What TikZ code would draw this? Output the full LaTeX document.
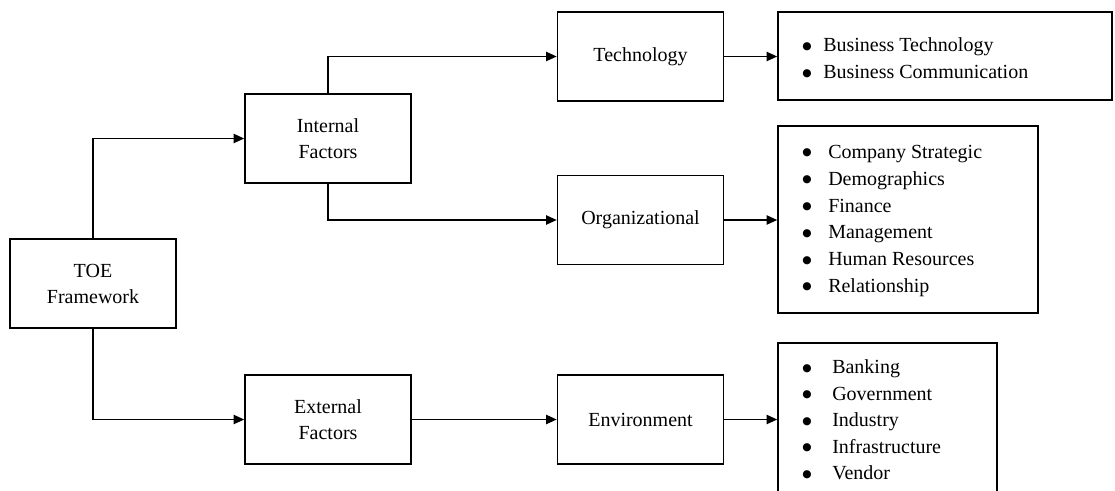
\documentclass[tikz,border=0pt]{standalone}
\usepackage{fontspec}
\setmainfont{Liberation Serif}
\newfontfamily\dejavu{DejaVu Sans}
\usetikzlibrary{arrows.meta}
\begin{document}
\begin{tikzpicture}[x=0.75pt,y=-0.75pt,
  box/.style={draw,line width=1.2pt,minimum width=124.5pt,minimum height=66.75pt,align=center,inner sep=0pt,font=\fontsize{15}{19.5}\selectfont},
  listbox/.style={draw,line width=1.2pt,inner sep=0pt},
  listtext/.style={anchor=west,align=left,inner sep=0pt,font=\fontsize{15}{20.1}\selectfont},
  conn/.style={line width=1.1pt,-{Triangle[length=8pt,width=7pt]}}]
\useasboundingbox (0,0) rectangle (1115,490);
\clip (0,0) rectangle (1115,490);
\newcommand{\itm}[2]{\makebox[#1][l]{\raisebox{2pt}{\dejavu\fontsize{8}{8}\selectfont ●}}#2}
% main boxes
\node[box] (toe) at (93,283.5) {TOE\\Framework};
\node[box] (int) at (328,138.5) {Internal\\Factors};
\node[box] (ext) at (328,419.5) {External\\Factors};
\node[box] (tech) at (640.5,56.5) {Technology};
\node[box] (org) at (640.5,220) {Organizational};
\node[box] (env) at (640.5,419.5) {Environment};
% list boxes
\node[listbox,minimum width=250.5pt,minimum height=66pt] (l1) at (945,56) {};
\node[listbox,minimum width=195pt,minimum height=140.25pt] (l2) at (908,219.5) {};
\node[listbox,minimum width=164.25pt,minimum height=118.5pt] (l3) at (887.5,422) {};
% list texts
\node[listtext] (l1t) at (802,58.5) {\itm{15.75pt}{Business Technology}\\\itm{15.75pt}{Business Communication}};
\node[listtext] (l2t) at (802,221) {\itm{19.5pt}{Company Strategic}\\\itm{19.5pt}{Demographics}\\\itm{19.5pt}{Finance}\\\itm{19.5pt}{Management}\\\itm{19.5pt}{Human Resources}\\\itm{19.5pt}{Relationship}};
\node[listtext,font=\fontsize{15}{19.9}\selectfont] (l3t) at (802,420) {\itm{22.5pt}{Banking}\\\itm{22.5pt}{Government}\\\itm{22.5pt}{Industry}\\\itm{22.5pt}{Infrastructure}\\\itm{22.5pt}{Vendor}};
% connectors
\draw[conn] (toe.north) |- (int.west);
\draw[conn] (toe.south) |- (ext.west);
\draw[conn] (int.north) |- (tech.west);
\draw[conn] (int.south) |- (org.west);
\draw[conn] (ext.east) -- (env.west);
\draw[conn] (tech.east) -- (tech.east -| l1.west);
\draw[conn] (org.east) -- (org.east -| l2.west);
\draw[conn] (env.east) -- (env.east -| l3.west);
\end{tikzpicture}
\end{document}
